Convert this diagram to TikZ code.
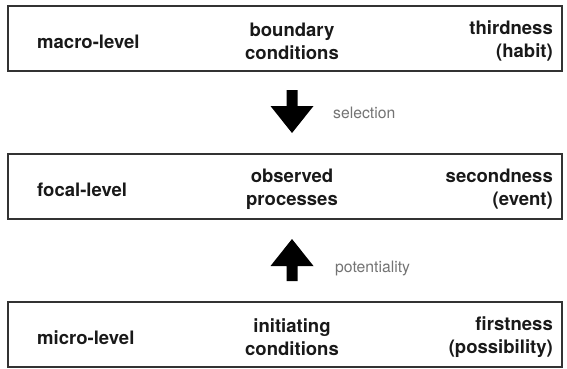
\documentclass[tikz,border=0pt]{standalone}
\usepackage{fontspec}
\setmainfont{TeX Gyre Heros}
\begin{document}
\begin{tikzpicture}[x=1bp,y=-1bp,
  level/.style={draw=black!80, line width=1.8bp, minimum width=554bp,
    minimum height=65bp, inner sep=0pt, anchor=north west},
  lbl/.style={font=\bfseries\fontsize{18.6}{23}\selectfont, inner sep=0pt, text=black!90},
  leftcol/.style={lbl, anchor=west},
  midcol/.style={lbl, align=center},
  rightcol/.style={lbl, align=right, anchor=east},
  note/.style={font=\fontsize{15.8}{18}\selectfont, text=black!55,
    anchor=base west, inner sep=0pt},
  blockarrow/.style={fill=black, draw=none}]
\useasboundingbox (0,0) rectangle (567,368);

% the three levels
\node[level] (macro) at (7,5) {};
\node[level] (focal) at (7,153) {};
\node[level] (micro) at (7,301) {};

% macro level
\node[leftcol]  (macroname)  at (37,42) {macro-level};
\node[midcol]   (macromid)   at (292,41) {boundary\\conditions};
\node[rightcol] (macroright) at (553,41) {thirdness\\(habit)};

% focal level
\node[leftcol]  (focalname)  at (37,190) {focal-level};
\node[midcol]   (focalmid)   at (292,189) {observed\\processes};
\node[rightcol] (focalright) at (553,189) {secondness\\(event)};

% micro level
\node[leftcol]  (microname)  at (37,338) {micro-level};
\node[midcol]   (micromid)   at (292,337) {initiating\\conditions};
\node[rightcol] (microright) at (553,337) {firstness\\(possibility)};

% downward arrow: selection
\coordinate (downtail) at (292,90);
\coordinate (downtip) at (292,133);
\fill[blockarrow] (downtail) ++(-5.5,0) -- ++(11,0) -- ++(0,16)
  -- ++(16,0) -- (downtip) -- ++(-21.5,-27) -- ++(16,0) -- cycle;
\node[note] (sel) at (333,118) {selection};

% upward arrow: potentiality
\coordinate (uptail) at (292,281);
\coordinate (uptip) at (292,239);
\fill[blockarrow] (uptail) ++(-5.5,0) -- ++(11,0) -- ++(0,-15)
  -- ++(16,0) -- (uptip) -- ++(-21.5,27) -- ++(16,0) -- cycle;
\node[note] (pot) at (335,272) {potentiality};
\end{tikzpicture}
\end{document}
